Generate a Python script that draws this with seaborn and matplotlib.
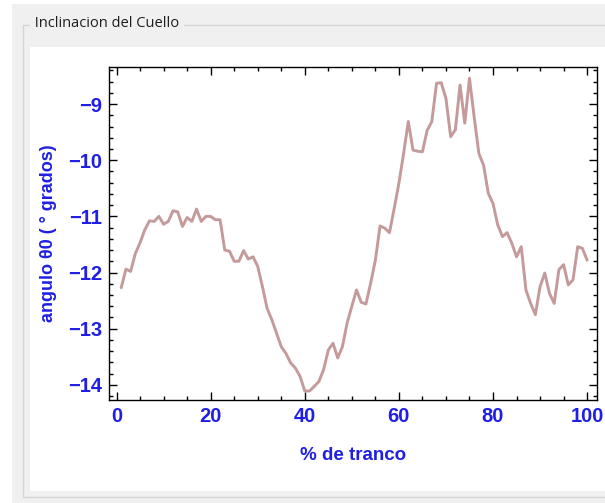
import numpy as np
import pandas as pd
import matplotlib
matplotlib.use('Agg')
import matplotlib.pyplot as plt
from matplotlib.patches import Rectangle
from matplotlib.ticker import MultipleLocator
import seaborn as sns

# data (% of stride vs neck angle)
tranco = list(range(1, 101))
angulo = [
    -12.27, -11.94, -11.98, -11.66, -11.47, -11.24, -11.08, -11.09, -11.00, -11.14,
    -11.09, -10.90, -10.92, -11.18, -11.02, -11.09, -10.87, -11.09, -11.00, -11.00,
    -11.06, -11.06, -11.60, -11.62, -11.80, -11.80, -11.61, -11.76, -11.72, -11.89,
    -12.25, -12.64, -12.84, -13.08, -13.32, -13.44, -13.61, -13.70, -13.85, -14.11,
    -14.11, -14.03, -13.94, -13.73, -13.38, -13.26, -13.52, -13.32, -12.90, -12.60,
    -12.31, -12.53, -12.56, -12.19, -11.78, -11.17, -11.21, -11.29, -10.86, -10.41,
    -9.88, -9.31, -9.82, -9.84, -9.85, -9.47, -9.31, -8.63, -8.62, -8.90,
    -9.58, -9.46, -8.66, -9.34, -8.54, -9.23, -9.88, -10.09, -10.59, -10.77,
    -11.15, -11.36, -11.29, -11.48, -11.72, -11.54, -12.31, -12.55, -12.75, -12.25,
    -12.01, -12.37, -12.55, -11.95, -11.86, -12.22, -12.13, -11.54, -11.57, -11.78,
]
x_ticks = [0, 20, 40, 60, 80, 100]
y_ticks = [-14, -13, -12, -11, -10, -9]

df = pd.DataFrame({'tranco': tranco, 'angulo': angulo})

sns.set_style('ticks')
plt.rcParams['font.family'] = ['Liberation Sans', 'DejaVu Sans']

W, H = 605, 503
fig = plt.figure(figsize=(W / 100, H / 100), dpi=100, facecolor='white')

def px_rect(x0, y0, x1, y1, **kw):
    # rectangle given in pixel coords (origin top-left)
    return Rectangle((x0 / W, 1 - y1 / H), (x1 - x0) / W, (y1 - y0) / H,
                     transform=fig.transFigure, figure=fig, zorder=-10, **kw)

# window / group box background
fig.patches.append(px_rect(12, 4, 605, 503, facecolor='#f0f0f0', edgecolor='none'))
fig.patches.append(px_rect(23, 25, 606, 497, facecolor='none', edgecolor='#d5d5d5', linewidth=1))
fig.patches.append(px_rect(30, 47, 606, 491, facecolor='white', edgecolor='none'))
fig.text(31 / W, 1 - 24 / H, ' Inclinacion del Cuello ', fontsize=10.5, color='#1e1e1e',
         family=['Open Sans', 'DejaVu Sans'], va='center', ha='left',
         bbox=dict(facecolor='#f0f0f0', edgecolor='none', pad=0.5))

ax = fig.add_axes([109 / W, 1 - 400 / H, 488 / W, 333 / H])
ax.set_zorder(5)
sns.lineplot(data=df, x='tranco', y='angulo', ax=ax, color='#c49a9a', linewidth=2.1)

ax.set_xlim(-1.6, 102.1)
ax.set_ylim(-14.27, -8.34)
ax.set_xticks(x_ticks)
ax.set_yticks(y_ticks)
ax.set_yticklabels(['\u2212' + str(abs(v)) for v in y_ticks])
ax.xaxis.set_minor_locator(MultipleLocator(5))
ax.yaxis.set_minor_locator(MultipleLocator(0.2))
ax.tick_params(which='both', direction='in', top=True, right=True, color='black', width=1)
ax.tick_params(which='major', length=6, labelsize=14.5, labelcolor='#1f1fe6', pad=5)
ax.tick_params(which='minor', length=3)
for lab in ax.get_xticklabels() + ax.get_yticklabels():
    lab.set_fontweight('bold')
for s in ax.spines.values():
    s.set_color('black')
    s.set_linewidth(1)

ax.set_xlabel('% de tranco', fontsize=13.5, fontweight='bold', color='#1f1fe6', labelpad=15)
ax.set_ylabel('angulo \u03b80 ( \u00b0 grados)', fontsize=13, fontweight='bold', color='#1f1fe6', labelpad=8)

fig.savefig('out.png', dpi=100, facecolor=fig.get_facecolor())
